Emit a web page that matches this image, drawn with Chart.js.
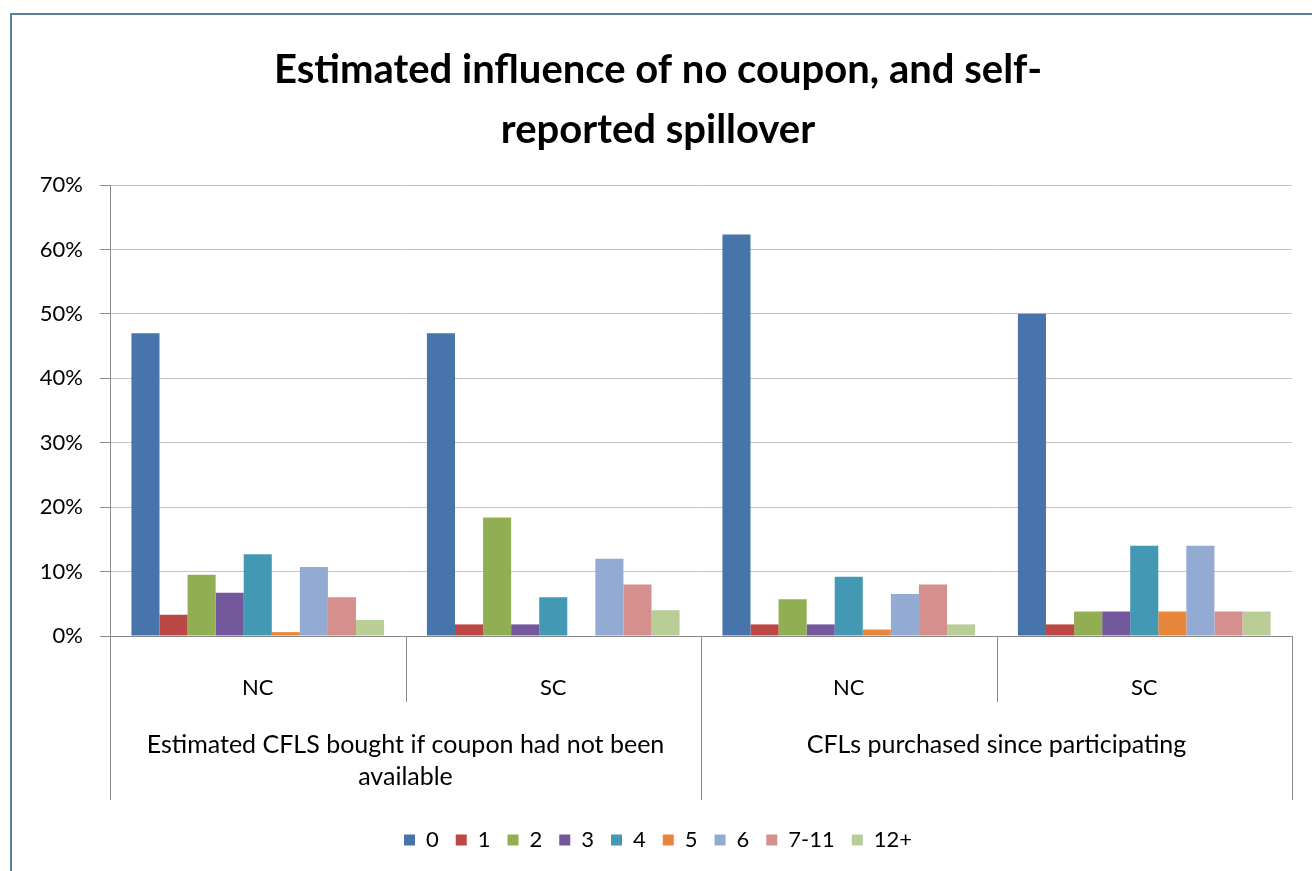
<!DOCTYPE html>
<html>
<head>
<meta charset="utf-8">
<script src="https://cdn.jsdelivr.net/npm/chart.js@4.4.1/dist/chart.umd.min.js"></script>
<style>
  html, body { margin: 0; padding: 0; background: #ffffff; }
  canvas { display: block; }
</style>
</head>
<body>
<canvas id="c" width="1312" height="871"></canvas>
<script>
// ---- data ----
const categories = ['NC', 'SC', 'NC', 'SC'];
const groupLabels = [['Estimated CFLS bought if coupon had not been', 'available'], ['CFLs purchased since participating']];
const groupSpans = [2, 2];
const seriesNames = ['0', '1', '2', '3', '4', '5', '6', '7-11', '12+'];
const s0    = [47.0, 47.0, 62.3, 50.0];
const s1    = [3.3, 1.8, 1.8, 1.8];
const s2    = [9.5, 18.4, 5.7, 3.8];
const s3    = [6.7, 1.8, 1.8, 3.8];
const s4    = [12.7, 6.0, 9.2, 14.0];
const s5    = [0.6, 0, 1.0, 3.8];
const s6    = [10.7, 12.0, 6.5, 14.0];
const s7_11 = [6.0, 8.0, 8.0, 3.8];
const s12   = [2.5, 4.0, 1.8, 3.8];
const yTickLabels = ['0%', '10%', '20%', '30%', '40%', '50%', '60%', '70%'];
const titleLines = ['Estimated influence of no coupon, and self-', 'reported spillover'];

const seriesValues = [s0, s1, s2, s3, s4, s5, s6, s7_11, s12];
const seriesColors = ['#4674AB', '#BC4845', '#92AE53', '#73589C', '#4399B3', '#E8873C', '#93AAD2', '#D5908E', '#B9CE96'];

const FONT = 'Lato, "Open Sans", "DejaVu Sans", sans-serif';

const datasets = seriesNames.map((name, i) => ({
  label: name,
  data: seriesValues[i],
  backgroundColor: seriesColors[i],
  borderWidth: 0,
  barPercentage: 1.0,
  categoryPercentage: 0.855
}));

const frameAndGroups = {
  id: 'frameAndGroups',
  beforeDraw(chart) {
    const ctx = chart.ctx;
    ctx.save();
    ctx.fillStyle = '#ffffff';
    ctx.fillRect(0, 0, chart.width, chart.height);
    ctx.strokeStyle = '#5B7F98';
    ctx.lineWidth = 2;
    ctx.strokeRect(11, 14, chart.width + 20, chart.height + 20);
    ctx.restore();
  },
  afterDraw(chart) {
    const x = chart.scales.x;
    const ctx = chart.ctx;
    const top = x.top;
    const step = x.getPixelForValue(1) - x.getPixelForValue(0);
    const edge = i => x.getPixelForValue(i) - step / 2;
    ctx.save();
    ctx.strokeStyle = '#8A8A8A';
    ctx.lineWidth = 1;
    let idx = 0;
    const groupEdges = [idx];
    groupSpans.forEach(span => {
      for (let k = 1; k < span; k++) {
        const px = Math.round(edge(idx + k)) + 0.5;
        ctx.beginPath(); ctx.moveTo(px, top); ctx.lineTo(px, top + 66); ctx.stroke();
      }
      idx += span;
      groupEdges.push(idx);
    });
    groupEdges.forEach(i => {
      const px = Math.round(edge(i)) + 0.5;
      ctx.beginPath(); ctx.moveTo(px, top); ctx.lineTo(px, top + 164); ctx.stroke();
    });
    ctx.fillStyle = '#000000';
    ctx.font = '25px ' + FONT;
    ctx.textAlign = 'center';
    ctx.textBaseline = 'middle';
    groupLabels.forEach((lines, g) => {
      const cx = (edge(groupEdges[g]) + edge(groupEdges[g + 1])) / 2;
      lines.forEach((line, j) => ctx.fillText(line, cx, top + 109 + j * 32));
    });
    ctx.restore();
  }
};

new Chart(document.getElementById('c'), {
  type: 'bar',
  data: { labels: categories, datasets },
  options: {
    responsive: false,
    animation: false,
    devicePixelRatio: 1,
    layout: { padding: { left: 10, right: 6, top: 13, bottom: 10 } },
    plugins: {
      tooltip: { enabled: false },
      title: {
        display: true,
        text: titleLines,
        color: '#000000',
        font: { family: FONT, size: 40, weight: 'bold', lineHeight: 1.5 },
        padding: { top: 27, bottom: 25 }
      },
      legend: {
        position: 'bottom',
        labels: {
          color: '#000000',
          font: { family: FONT, size: 22 },
          boxWidth: 11,
          boxHeight: 11,
          padding: 17
        }
      }
    },
    scales: {
      x: {
        grid: { display: false },
        border: { display: true, color: '#8A8A8A', width: 1 },
        ticks: { color: '#000000', font: { family: FONT, size: 22 }, padding: 31, maxRotation: 0 },
        afterFit(s) { s.height = 176; }
      },
      y: {
        min: 0, max: 70,
        grid: { color: '#C4C4C4', lineWidth: 1, tickLength: 10, tickColor: '#8A8A8A' },
        border: { display: true, color: '#8A8A8A', width: 1 },
        ticks: {
          stepSize: 10,
          color: '#000000',
          font: { family: FONT, size: 22 },
          padding: 17,
          callback: (v, i) => yTickLabels[i]
        },
        afterFit(s) { s.width = 100; }
      },
      yR: {
        position: 'right',
        display: true,
        grid: { display: false },
        border: { display: false },
        ticks: { display: false },
        afterFit(s) { s.width = 14; }
      }
    }
  },
  plugins: [frameAndGroups]
});
</script>
</body>
</html>
